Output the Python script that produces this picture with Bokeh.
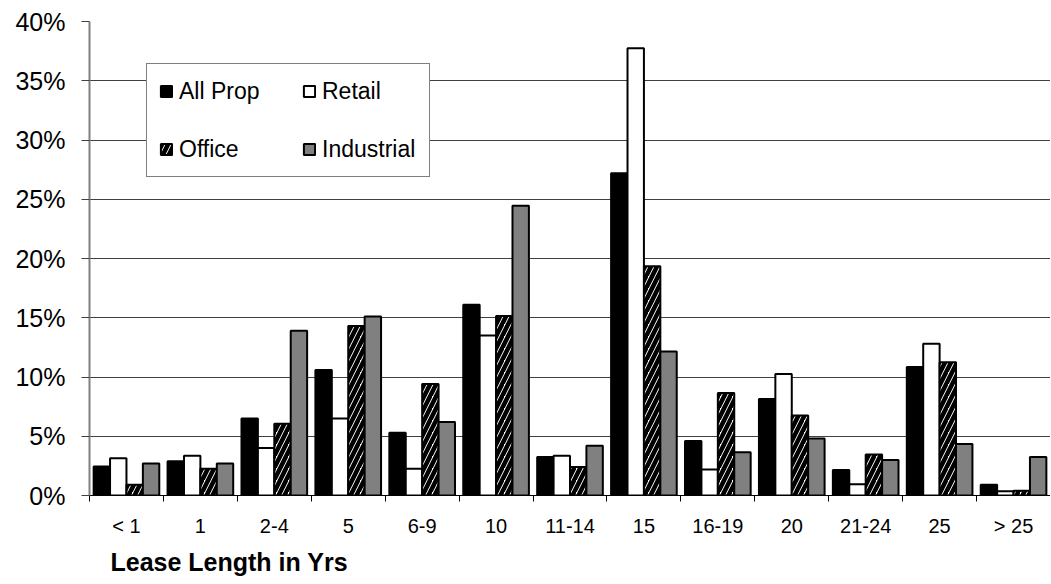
from bokeh.plotting import figure
from bokeh.models import (FixedTicker, PrintfTickFormatter, Legend, LegendItem, Title,
                          Range1d, CustomJSTickFormatter)
from bokeh.embed import file_html
from bokeh.resources import INLINE
import numpy as np

categories = ["< 1", "1", "2-4", "5", "6-9", "10", "11-14", "15", "16-19", "20", "21-24", "25", "> 25"]
all_prop   = [2.45, 2.9, 6.5, 10.6, 5.3, 16.1, 3.25, 27.2, 4.6, 8.15, 2.15, 10.85, 0.9]
retail     = [3.15, 3.35, 4.0, 6.5, 2.25, 13.5, 3.35, 37.75, 2.2, 10.25, 0.95, 12.8, 0.35]
office     = [0.9, 2.25, 6.05, 14.3, 9.4, 15.15, 2.4, 19.35, 8.65, 6.75, 3.45, 11.25, 0.4]
industrial = [2.7, 2.7, 13.9, 15.1, 6.2, 24.45, 4.2, 12.15, 3.65, 4.8, 3.0, 4.35, 3.25]
y_ticks = [0, 5, 10, 15, 20, 25, 30, 35, 40]
x_title = "Lease Length in Yrs"

FONT = "Liberation Sans"
n = len(categories)

p = figure(width=1050, height=584, output_backend="svg", toolbar_location=None,
           x_range=Range1d(0, n), y_range=Range1d(0, 40),
           min_border_left=89, min_border_right=0, min_border_top=21, min_border_bottom=89)
p.outline_line_color = None
p.background_fill_color = "white"
p.border_fill_color = "white"

centers = np.arange(n) + 0.5
bw = 0.222
series = [
    ("All Prop", all_prop, dict(fill_color="black")),
    ("Retail", retail, dict(fill_color="white")),
    ("Office", office, dict(fill_color="white", hatch_pattern="/", hatch_color="black",
                            hatch_weight=4.5, hatch_scale=12)),
    ("Industrial", industrial, dict(fill_color="#808080")),
]
renderers = []
for k, (name, vals, style) in enumerate(series):
    off = (k - 1.5) * bw
    r = p.vbar(x=centers + off, top=vals, bottom=0, width=bw,
               line_color="black", line_width=2, **style)
    renderers.append((name, r))

# x axis
p.xaxis.ticker = FixedTicker(ticks=list(centers), minor_ticks=list(range(n + 1)))
p.xaxis.formatter = CustomJSTickFormatter(args=dict(labels=categories),
                                          code="return labels[Math.floor(tick)];")
p.xaxis.major_tick_out = 0
p.xaxis.major_tick_in = 0
p.xaxis.minor_tick_out = 6
p.xaxis.minor_tick_in = 0
p.xaxis.minor_tick_line_color = "black"
p.xaxis.axis_line_color = "black"
p.xaxis.axis_line_width = 1
p.xaxis.major_label_standoff = 13
p.xaxis.major_label_text_font = FONT
p.xaxis.major_label_text_font_size = "20px"
p.xaxis.major_label_text_color = "black"

# y axis
p.yaxis.ticker = FixedTicker(ticks=y_ticks)
p.yaxis.formatter = PrintfTickFormatter(format="%d%%")
p.yaxis.major_tick_out = 8
p.yaxis.major_tick_in = 0
p.yaxis.minor_tick_out = 0
p.yaxis.minor_tick_in = 0
p.yaxis.axis_line_color = "#808080"
p.yaxis.axis_line_width = 2
p.yaxis.major_tick_line_color = "#404040"
p.yaxis.major_label_standoff = 16
p.yaxis.major_label_text_font = FONT
p.yaxis.major_label_text_font_size = "25px"
p.yaxis.major_label_text_color = "black"

p.xgrid.visible = False
p.ygrid.ticker = FixedTicker(ticks=y_ticks)
p.ygrid.grid_line_color = "#404040"
p.ygrid.grid_line_width = 1

legend = Legend(items=[LegendItem(label=nm, renderers=[r]) for nm, r in renderers],
                location=(57, 318), ncols=2, orientation="horizontal",
                glyph_width=14, glyph_height=14, label_standoff=6,
                label_width=95, label_height=30, spacing=28, padding=12,
                label_text_font=FONT, label_text_font_size="23px",
                label_text_color="black",
                border_line_color="black", border_line_width=1,
                background_fill_color="white", background_fill_alpha=1.0)
p.add_layout(legend)

t = Title(text=x_title, align="left", offset=21, standoff=12, text_font=FONT,
          text_font_size="25px", text_font_style="bold", text_color="black")
p.add_layout(t, "below")

open("out.html", "w").write(file_html(p, INLINE))
